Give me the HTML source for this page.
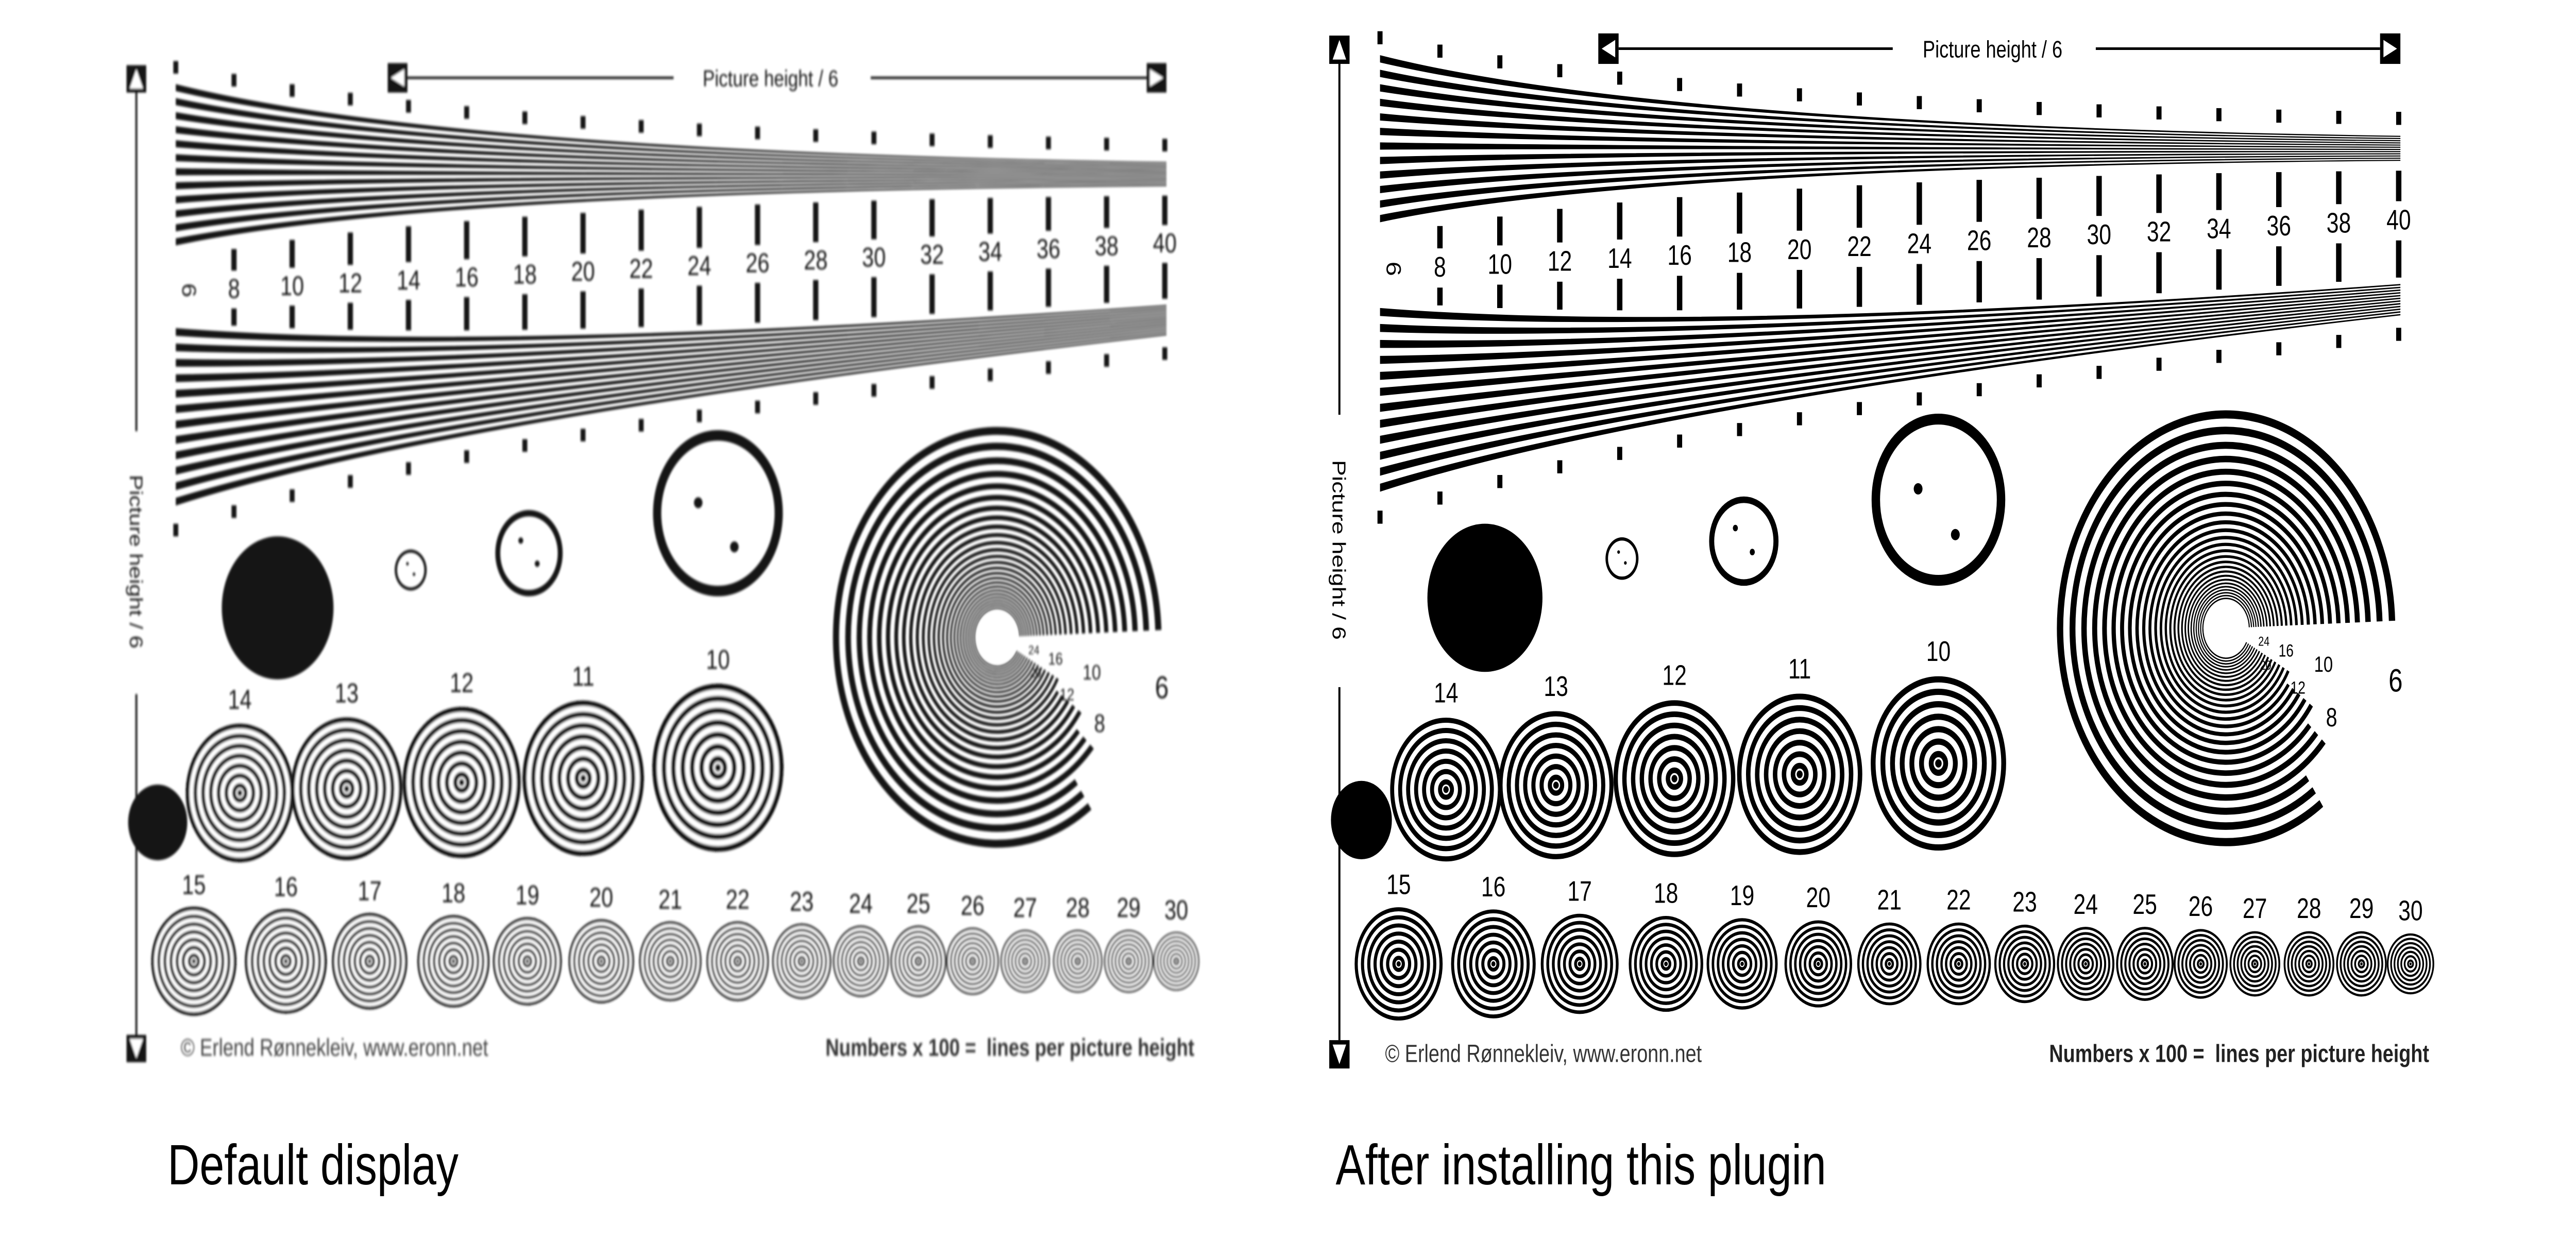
<!DOCTYPE html>
<html><head><meta charset="utf-8"><style>
html,body{margin:0;padding:0;background:#fff;width:100vw;height:100vh;overflow:hidden}
svg{display:block;width:100vw;height:100vh}
</style></head><body>
<svg id="s" xmlns="http://www.w3.org/2000/svg" viewBox="0 0 1568 590" preserveAspectRatio="none">
<defs><filter id="bl" x="-5%" y="-5%" width="110%" height="110%"><feGaussianBlur stdDeviation="0.6"/></filter></defs>
<rect width="1568" height="590" fill="#fff"/>
<g id="L" filter="url(#bl)" opacity="0.92"></g>
<g id="R" transform="matrix(1.03,0,0,1.036,729.8,-15.2)"></g>
<text x="102" y="563" font-family="Liberation Sans, sans-serif" font-size="27" fill="#000">Default display</text>
<text x="813" y="563" font-family="Liberation Sans, sans-serif" font-size="27" fill="#000">After installing this plugin</text>
</svg>
<script>
const F='font-family="Liberation Sans, sans-serif"';
function lerp(a,b,t){return a+(b-a)*t}
function q(p0,c,p1,t){return [ (1-t)*(1-t)*p0[0]+2*(1-t)*t*c[0]+t*t*p1[0], (1-t)*(1-t)*p0[1]+2*(1-t)*t*c[1]+t*t*p1[1] ];}
function yAt(cur,x){let lo=0,hi=1;for(let i=0;i<30;i++){let m=(lo+hi)/2;if(q(cur[0],cur[1],cur[2],m)[0]<x)lo=m;else hi=m;}return q(cur[0],cur[1],cur[2],lo)[1];}
function mix(A,B,f){return A.map((p,i)=>[lerp(p[0],B[i][0],f),lerp(p[1],B[i][1],f)]);}
function band(T,B,N){let s='';for(let k=0;k<N;k+=2){let a=mix(T,B,k/N),b=mix(T,B,(k+1)/N);
s+=`<path d="M${a[0][0]},${a[0][1]} Q${a[1][0]},${a[1][1]} ${a[2][0]},${a[2][1]} L${b[2][0]},${b[2][1]} Q${b[1][0]},${b[1][1]} ${b[0][0]},${b[0][1]} Z" fill="#000"/>`;}return s;}
function rings(cx,cy,r,n){let s=`<circle cx="${cx}" cy="${cy}" r="${r}" fill="#fff"/>`;let p=r/n;for(let i=0;i<n;i++){let rr=r-p*i-p/4;if(rr<=0)break;s+=`<circle cx="${cx}" cy="${cy}" r="${rr}" fill="none" stroke="#000" stroke-width="${p/2}"/>`;}s+=`<circle cx="${cx}" cy="${cy}" r="${Math.max(p/3,0.6)}" fill="#000"/>`;return s;}
function arc(cx,cy,r,a0,a1,w){let t0=a0*Math.PI/180,t1=a1*Math.PI/180;let x0=cx+r*Math.cos(t0),y0=cy+r*Math.sin(t0),x1=cx+r*Math.cos(t1),y1=cy+r*Math.sin(t1);let large=((a1-a0+360)%360)>180?1:0;return `<path d="M${x0},${y0} A${r},${r} 0 ${large} 1 ${x1},${y1}" fill="none" stroke="#000" stroke-width="${w}"/>`;}
function build(){
let s='';
s+=`<line x1="83" y1="42" x2="83" y2="205" stroke="#000" stroke-width="1.2"/><line x1="83" y1="330" x2="83" y2="492" stroke="#000" stroke-width="1.2"/>`;
s+=`<rect x="77" y="31" width="12" height="13" fill="#000"/><path d="M79,42 L83,33 L87,42 Z" fill="#fff"/>`;
s+=`<rect x="77" y="492" width="12" height="13" fill="#000"/><path d="M79,494 L83,503 L87,494 Z" fill="#fff"/>`;
s+=`<text transform="translate(79,267) rotate(90)" text-anchor="middle" ${F} font-size="11" fill="#000">Picture height / 6</text>`;
s+=`<line x1="248" y1="37" x2="410" y2="37" stroke="#000" stroke-width="1.2"/><line x1="530" y1="37" x2="698" y2="37" stroke="#000" stroke-width="1.2"/>`;
s+=`<rect x="236" y="30" width="12" height="14" fill="#000"/><path d="M246,33 L238,37 L246,41 Z" fill="#fff"/>`;
s+=`<rect x="698" y="30" width="12" height="14" fill="#000"/><path d="M700,33 L708,37 L700,41 Z" fill="#fff"/>`;
s+=`<text x="469" y="41" text-anchor="middle" ${F} font-size="11" fill="#000">Picture height / 6</text>`;
const UT=[[107,40],[270,72],[710,77]],UB=[[107,120],[260,92],[710,89]];
const LT=[[107,156],[300,168],[710,145]],LB=[[107,244],[270,200],[710,160]];
s+=band(UT,UB,24)+band(LT,LB,24);
const labs=[6,8,10,12,14,16,18,20,22,24,26,28,30,32,34,36,38,40];
labs.forEach((n,i)=>{let x=107+i*(602/17);let ly=143-(x-107)/602*23;
 let ub=yAt(UB,x),ut=yAt(UT,x),lt=yAt(LT,x),lb=yAt(LB,x);
 if(i>0){s+=`<rect x="${x-1.6}" y="${ub+4}" width="3.2" height="${Math.max(ly-13-ub-4,2)}" fill="#000"/>`;
 if(lt-3-(ly+5)>2)s+=`<rect x="${x-1.6}" y="${ly+5}" width="3.2" height="${lt-3-ly-5}" fill="#000"/>`;}
 s+=`<rect x="${x-1.5}" y="${ut-11}" width="3" height="6" fill="#000"/>`;
 s+=`<rect x="${x-1.5}" y="${lb+5}" width="3" height="6" fill="#000"/>`;
 if(i==0)s+=`<text transform="translate(${x+4},${ly-5}) rotate(90)" text-anchor="middle" ${F} font-size="12">${n}</text>`;
 else s+=`<text x="${x}" y="${ly}" text-anchor="middle" ${F} font-size="13">${n}</text>`;
});
s+=`<circle cx="169" cy="289" r="34" fill="#000"/>`;
s+=`<circle cx="250" cy="271" r="9" fill="none" stroke="#000" stroke-width="1.5"/><circle cx="248" cy="268" r="0.8"/><circle cx="252" cy="273" r="0.8"/>`;
s+=`<circle cx="322" cy="263" r="19" fill="none" stroke="#000" stroke-width="3"/><circle cx="317" cy="257" r="1.5"/><circle cx="327" cy="268" r="1.5"/>`;
s+=`<circle cx="437" cy="244" r="37" fill="none" stroke="#000" stroke-width="5"/><circle cx="425" cy="239" r="2.6"/><circle cx="447" cy="260" r="2.6"/>`;
let cx=607,cy=303;
for(let r=100;r>13;){let p=Math.max(r*0.075,1.3);let end=r>85?55:r>65?42:r>45?35:28;s+=arc(cx,cy,r-p/4,end,-2,p/2);r-=p;}
s+=`<circle cx="${cx}" cy="${cy}" r="12" fill="#fff"/>`;
s+=`<text x="703" y="332" ${F} font-size="15">6</text><text x="666" y="348" ${F} font-size="12">8</text><text x="659" y="323" ${F} font-size="10">10</text><text x="645" y="333" ${F} font-size="8">12</text><text x="638" y="316" ${F} font-size="8">16</text><text x="627" y="322" ${F} font-size="6">20</text><text x="626" y="311" ${F} font-size="6">24</text>`;
[[14,146,377,33],[13,211,375,34],[12,281,372,36],[11,355,370,37],[10,437,365,40]].forEach(a=>{s+=rings(a[1],a[2],a[3],7);s+=`<text x="${a[1]}" y="${a[2]-a[3]-7}" text-anchor="middle" ${F} font-size="13">${a[0]}</text>`;});
s+=`<circle cx="96" cy="391" r="18" fill="#000"/>`;
const r2=[[15,118,26],[16,174,25],[17,225,23],[18,276,22],[19,321,21],[20,366,20],[21,408,19],[22,449,19],[23,488,18],[24,524,17],[25,559,17],[26,592,16],[27,624,15],[28,656,15],[29,687,15],[30,716,14]];
r2.forEach(a=>{s+=rings(a[1],457,a[2],7);s+=`<text x="${a[1]}" y="${457-a[2]-6}" text-anchor="middle" ${F} font-size="13">${a[0]}</text>`;});
s+=`<text x="110" y="502" ${F} font-size="11.5" fill="#333">© Erlend Rønnekleiv, www.eronn.net</text>`;
s+=`<text x="727" y="502" text-anchor="end" ${F} font-size="11.5" font-weight="bold" fill="#222" xml:space="preserve">Numbers x 100 =  lines per picture height</text>`;
return s;}
const c=build();
document.getElementById('L').innerHTML=c;
document.getElementById('R').innerHTML=c;
</script>
</body></html>
